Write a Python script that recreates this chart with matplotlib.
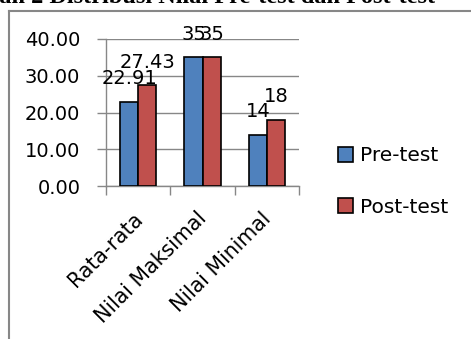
import matplotlib
matplotlib.use('Agg')
import matplotlib.pyplot as plt
import numpy as np
from matplotlib.patches import Patch

categories = ['Rata-rata', 'Nilai Maksimal', 'Nilai Minimal']
pre_test = [22.91, 35, 14]
post_test = [27.43, 35, 18]
pre_labels = ['22.91', '35', '14']
post_labels = ['27.43', '35', '18']
y_ticks = [0, 10, 20, 30, 40]

BLUE = '#4F81BD'
RED = '#C0504D'
GRAY = '#878787'

plt.rcParams['font.family'] = 'DejaVu Sans'

W, H = 471, 339
fig = plt.figure(figsize=(W / 100, H / 100), dpi=100)

# caption line sitting just off the top edge
fig.text(435 / W, 1 - 2.5 / H, 'Bagan 2 Distribusi Nilai Pre-test dan Post-test',
         ha='right', va='baseline', fontsize=17.5, fontweight='bold',
         family='Liberation Serif')

# chart area border
fig.add_artist(plt.Line2D([9 / W, 9 / W], [0, 1 - 11 / H], color=GRAY, lw=1.5))
fig.add_artist(plt.Line2D([9 / W, 1], [1 - 11 / H, 1 - 11 / H], color=GRAY, lw=1.5))

ax = fig.add_axes([106 / W, (H - 186) / H, (299 - 106) / W, (186 - 39) / H])

x = np.arange(len(categories))
w = 0.28
b1 = ax.bar(x - w / 2, pre_test, w, color=BLUE, edgecolor='black', linewidth=1.2, zorder=3)
b2 = ax.bar(x + w / 2, post_test, w, color=RED, edgecolor='black', linewidth=1.2, zorder=3)

for bars, labels in ((b1, pre_labels), (b2, post_labels)):
    for bar, lab in zip(bars, labels):
        ax.annotate(lab, (bar.get_x() + bar.get_width() / 2, bar.get_height()),
                    xytext=(0, 12.5), textcoords='offset points',
                    ha='center', va='baseline', fontsize=14)

ax.set_xlim(-0.5, 2.5)
ax.set_ylim(0, 40)
ax.set_yticks(y_ticks)
ax.set_yticklabels(['%.2f' % v for v in y_ticks], fontsize=14)
ax.yaxis.grid(True, color=GRAY, linewidth=1)
ax.set_axisbelow(True)

# category labels hang slightly left of each group centre
ax.set_xticks(x - 0.09)
ax.set_xticklabels(categories, rotation=45, ha='right', va='top',
                   rotation_mode='anchor', fontsize=14.8)
ax.set_xticks([-0.5, 0.5, 1.5, 2.5], minor=True)
ax.tick_params(axis='x', which='major', length=0, pad=16)
ax.tick_params(axis='x', which='minor', length=6.5, color=GRAY, width=1)
ax.tick_params(axis='y', length=6.5, color=GRAY, width=1, pad=12)

for s in ['top', 'right']:
    ax.spines[s].set_visible(False)
for s in ['left', 'bottom']:
    ax.spines[s].set_color(GRAY)
    ax.spines[s].set_linewidth(1)

handles = [Patch(facecolor=BLUE, edgecolor='black', linewidth=1.2),
           Patch(facecolor=RED, edgecolor='black', linewidth=1.2)]
fig.legend(handles, ['Pre-test', 'Post-test'], loc='center left',
           bbox_to_anchor=(338 / W, 1 - 181.5 / H), frameon=False, fontsize=14.5,
           handlelength=0.75, handleheight=0.75, handletextpad=0.35,
           labelspacing=1.6, borderaxespad=0, borderpad=0)

fig.savefig('out.png', dpi=100)
